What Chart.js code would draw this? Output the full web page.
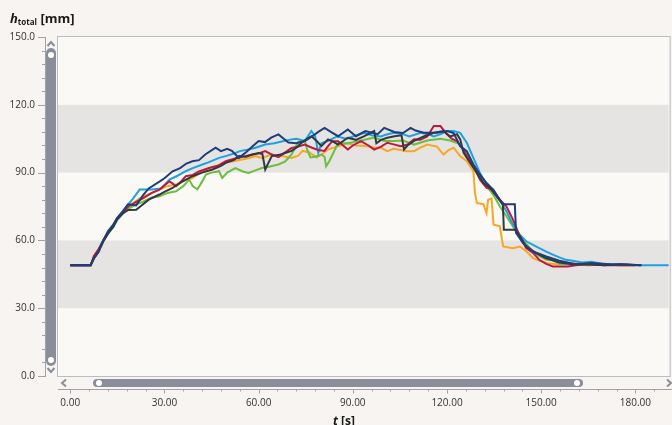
<!DOCTYPE html>
<html>
<head>
<meta charset="utf-8">
<script src="https://cdn.jsdelivr.net/npm/chart.js@4/dist/chart.umd.min.js"></script>
<style>
  html, body { margin: 0; padding: 0; background: #f7f4f1; overflow: hidden; }
  #wrap { width: 672px; height: 425px; position: relative; }
</style>
</head>
<body>
<div id="wrap"><canvas id="hChart" width="672" height="425"></canvas></div>
<script>
const navyT = [0,6.5,7.5,9,10.5,12,13.7,15,16.8,18.4,21,23.2,25,28.4,30,32.6,35,37,38.9,41,43,46.3,48,50,51.5,53.7,56,58,60,62,64,66.3,68,69.5,72,74.7,77,79,81,83,85.3,88.4,91,94,97.9,100,103.2,106,108.4,110,112.6,116.8,120,122.1,124.2,126.3,128.4,130.5,132.6,134.7,136.8,137.9,141.6,142,144.2,147.4,151.6,155.8,161,166,172,177,182];
const navyV = [49,49,52,55,60,64,67,70,73,76,75.5,80,83,86,87.5,90.6,92,94,95,95.5,98,101,99.5,100.5,99.6,96.5,99,101.5,104,103.5,105.5,106.9,105,103.3,103,104,106,108,109.8,108,106.1,109.1,106.1,108.4,107,109.8,108,107.5,109.8,108.6,107.6,107.6,108.4,107.5,101.7,99.5,93.6,89.1,85.4,82.5,78,76,76,63.3,58.8,55.1,52.9,51,49.5,50,49.5,49.3,49];

const blueT = [0,6.5,7.5,9,10.5,12,13.7,15,16.8,18.5,20,22.1,24,26,29,31.6,34,36.8,39,42.1,44,47.4,50,52.6,54,56.8,59,62.1,65,68,70.5,72,74.7,76.8,78,79,80,82,85,88,90,93.7,96,98.9,101,103.2,106,108,111.6,114,115.8,118,120,122.1,124.2,126.3,128.4,130.5,132.6,134.7,136.8,138.9,141,143.2,145.2,147.4,149.4,151.6,153.7,155.8,157.9,160,163,166,170,175,180,185,192];
const blueV = [49,49,52.5,56,60,63,66.5,70,73,76,78.5,82.5,82.5,82.5,83,86.9,88.5,90.6,92,93.6,94.5,96.5,97.5,98.7,99.5,100.2,101,102.4,103,104,104.7,105,104,108.4,106,98.7,103,104,106,105,106,107.6,106.5,106,107,107.6,107,106,107.6,107,106,107,108.4,108.4,107.6,103.2,96.5,89.8,84.7,81.7,78,72.9,67,62.5,59.6,58,56.6,55,53.7,52.5,51.4,51,50.2,50.5,49.5,49.5,49,49,49];

const orangeT = [0,6.5,7.5,9,10.5,12,13.7,15,16.8,18.5,20.5,22,25,28.4,31,33.7,36,38.9,41,44.2,47,49.5,52,54.7,57,59,61,64.2,67,70.5,72.6,74,76,78.5,80,82.1,85,88.4,91,94.7,97,98.9,101,103,105.3,107,109.5,111.5,113.7,116.8,118.9,120.5,122.1,124.2,126.3,128.4,128.9,129.5,131.6,132.6,133.1,134.2,134.8,136.8,137.9,141,143.2,145,147.4,149.5,151.6,155,160,165,170,175,180];
const orangeV = [49,49,52,55,59.5,63,66.5,70,72.5,75,77,78.5,80.5,82.5,84,84.7,86.5,87.6,89.5,92,93.2,94.3,95,95.8,96.5,97.3,96.5,98,97.5,96.5,97.5,99.6,99,96.7,98,100.2,101.5,103,102,101.7,101,101,99.5,100.5,100,99.5,99.5,101,102.4,101.5,98,100,101,97.3,95,90.6,81,76.6,76,72.1,78,78.5,67,66.2,57.3,56.5,57.3,55.5,52.1,51,50,49.5,50,49,49.5,49,49];

const greenT = [0,6.5,7.5,9,10.5,12,13.7,15,16.8,18.5,21,23,26,28.4,31,33.7,36,37.9,39,40.5,42,43.2,45,47.4,48.4,50,52.6,55,56.8,59,61,63,66.3,68.5,70.5,72.6,74.7,75.5,76.5,78,80,81,81.5,82.5,85.3,88.4,92,96.8,100,103.2,106,109.5,113.7,117.9,121,123.5,126.3,128.4,130.5,132.6,134.7,136.8,138.9,141,143.2,145.2,147.4,149.5,151.6,153.7,156,160,165,170,175,180];
const greenV = [49,49,52,55,59.5,63,66,69,72,74,76,77,79,79.5,81,81.7,84,86.9,84,82.6,86,89.1,90,90.6,87.6,90,92,90.5,89.8,91,92,92.5,93.6,95,98,103.5,104.2,100,96.7,97,98,97,92.8,95,103,103,104,105.5,104,104,104.2,102.4,104.2,105,104.2,103,98,93.6,88.4,84,80.3,75.1,70.7,66.2,61.8,58.5,55,53,51.4,51.4,49.6,49.5,49,49.5,49,49];

const redT = [0,6.5,7.5,9,10.5,12,13.7,15,16.8,18.5,21,23,26,28.4,31.6,33.7,35,36.8,39,41,44.2,47,49.5,52,55.8,58,60,62.1,64.2,66.3,68,70.5,72.6,74.7,77,79,81,82.1,83.5,85.3,88.4,90,92.6,95,96.8,99,101,103,105.3,107.5,109.5,111.5,113.7,115.8,117.9,120,121.5,123.2,124.8,126.3,128.4,130.5,132.6,134.7,136.8,138.9,141,143.2,145.2,147.4,149.4,151.6,153.7,156,158.5,161,165,170,175,180];
const redV = [49,49,53,56,60,63.5,66.5,70,72.5,75,77,78.5,81,82.5,86.2,84,85.5,88.4,89,90.5,92,93,95,96,97.3,98,98.5,99.5,98,96.8,98.5,100.9,101.5,102.4,101,100,99.6,101.7,103.9,103.9,100.2,102,103.9,102,100.2,101.5,103.2,102.5,101.7,102.5,104.7,104.5,106,110.6,110.6,106.9,105,103.9,101,97.3,93,86.9,83.2,82.5,78,75.1,69.2,61.8,56.6,54.5,51.4,49.6,48.5,48.4,48.5,49,49.5,49,49,49];

const greyT = [0,6.5,7.5,9,10.5,12,13.7,15,16.8,18.5,21,23.2,25,28.4,30,32.6,35,38.9,42,45.3,48,49.5,52,53.7,56,58,60,61.2,62.1,63,64.2,67,70.5,72,73.7,75,76.8,78.5,80,82.1,84,85.3,88.4,91,93.5,96.8,97.5,99,101,103.3,105.5,106.3,107.4,109.5,112.6,115.8,118.9,121,123.2,124.2,125.3,127.4,129.5,131.6,133.7,135.8,137.8,138.1,141.6,143.2,145.2,148.4,151.6,155.8,160,165,170,175,181.6];
const greyV = [49,49,52,55,59.5,63,66,69.5,72,73.5,73.6,76,78,80.3,81.5,83.2,85.5,88.4,90,91.4,93,94.3,95.5,97.3,97,98,98.7,98.2,91.4,94,97.3,98,99.6,101,103.2,104.5,106.1,104,101.7,104.7,103.5,102.4,105.4,104.5,106,108.4,103,104.5,105.4,106.1,106.5,100.2,102,104,106,107.6,108.4,106,107,104.7,98.7,94.3,89.8,85.4,83.2,79.5,75.8,64.7,64.7,61.8,57.3,54.4,52.1,50.2,49.5,49.5,49,49.5,49];

const bandRanges = [[30, 60], [90, 120]];
const yMajor = 30, yMinor = 6;
const xMajor = 30, xMinor = 6;

function pts(ts, vs) { return ts.map((t, i) => ({ x: t, y: vs[i] })); }

const FONT = '"Open Sans", "Noto Sans", sans-serif';

// bands, frame, axis ticks, scrollbars and titles (WPF-style chart look)
const decor = {
  id: 'decor',
  beforeDraw(chart) {
    const { ctx, chartArea: a, scales: { x, y } } = chart;
    ctx.save();
    ctx.fillStyle = '#f7f4f1';
    ctx.fillRect(0, 0, chart.width, chart.height);
    ctx.fillStyle = '#fbf9f6';
    ctx.fillRect(a.left, a.top, a.right - a.left, a.bottom - a.top);
    ctx.fillStyle = '#e6e3e3';
    bandRanges.forEach(([lo, hi]) => {
      const y1 = y.getPixelForValue(hi), y2 = y.getPixelForValue(lo);
      ctx.fillRect(a.left, y1, a.right - a.left, y2 - y1);
    });
    ctx.restore();
  },
  afterDraw(chart) {
    const { ctx, chartArea: a, scales: { x, y } } = chart;
    ctx.save();
    // plot frame
    ctx.strokeStyle = '#b9bcc3';
    ctx.lineWidth = 1;
    ctx.strokeRect(a.left - 0.5, a.top - 0.5, a.right - a.left + 2, a.bottom - a.top + 1);

    // y axis line + ticks
    ctx.strokeStyle = '#9ea2ab';
    ctx.beginPath();
    ctx.moveTo(45.5, a.top);
    ctx.lineTo(45.5, a.bottom + 1);
    for (let v = y.min; v <= y.max; v += yMinor) {
      const py = Math.round(y.getPixelForValue(v)) + 0.5;
      ctx.moveTo(v % yMajor === 0 ? 38 : 42, py);
      ctx.lineTo(45.5, py);
    }
    // x axis line + ticks
    const ay = 389.5;
    ctx.moveTo(a.left, ay);
    ctx.lineTo(chart.width, ay);
    for (let t = 0; t <= x.max; t += xMinor) {
      const px = Math.round(x.getPixelForValue(t)) + 0.5;
      ctx.moveTo(px, ay);
      ctx.lineTo(px, ay + (t % xMajor === 0 ? 4 : 2));
    }
    ctx.stroke();

    // scrollbars
    const barCol = '#8a8e9a';
    ctx.fillStyle = barCol;
    const rr = (x0, y0, w, h, r) => {
      ctx.beginPath();
      ctx.roundRect(x0, y0, w, h, r);
      ctx.fill();
    };
    rr(46, 48, 10, 318, 5);
    rr(93, 379, 490, 8, 4);
    ctx.fillStyle = '#ffffff';
    [[51, 55], [51, 360]].forEach(([cx, cy]) => { ctx.beginPath(); ctx.arc(cx, cy, 3, 0, Math.PI * 2); ctx.fill(); });
    [[99, 383], [577, 383]].forEach(([cx, cy]) => { ctx.beginPath(); ctx.arc(cx, cy, 3, 0, Math.PI * 2); ctx.fill(); });
    // arrows
    ctx.strokeStyle = barCol;
    ctx.lineWidth = 2;
    ctx.beginPath();
    ctx.moveTo(47.5, 46); ctx.lineTo(51, 42); ctx.lineTo(54.5, 46);
    ctx.moveTo(47.5, 368); ctx.lineTo(51, 372); ctx.lineTo(54.5, 368);
    ctx.moveTo(66, 379.5); ctx.lineTo(62, 383); ctx.lineTo(66, 386.5);
    ctx.moveTo(667, 379.5); ctx.lineTo(671, 383); ctx.lineTo(667, 386.5);
    ctx.stroke();

    // titles
    ctx.fillStyle = '#1a1a1a';
    ctx.textBaseline = 'alphabetic';
    ctx.textAlign = 'left';
    let tx = 10;
    ctx.font = 'italic bold 13px ' + FONT;
    ctx.fillText('h', tx, 23);
    tx += ctx.measureText('h').width;
    ctx.font = 'bold 8px ' + FONT;
    ctx.fillText('total', tx, 25);
    tx += ctx.measureText('total').width;
    ctx.font = 'bold 13px ' + FONT;
    ctx.fillText(' [mm]', tx, 23);

    let sx = 333;
    ctx.font = 'italic bold 12px ' + FONT;
    ctx.fillText('t', sx, 425);
    sx += ctx.measureText('t').width;
    ctx.font = 'bold 12px ' + FONT;
    ctx.fillText(' [s]', sx, 425);
    ctx.restore();
  }
};

const ctx = document.getElementById('hChart').getContext('2d');
const hChart = new Chart(ctx, {
  type: 'line',
  data: {
    datasets: [
      { label: 'run 1', data: pts(navyT, navyV), borderColor: '#1f3d78' },
      { label: 'run 2', data: pts(greyT, greyV), borderColor: '#33383f' },
      { label: 'run 3', data: pts(redT, redV), borderColor: '#c0183f' },
      { label: 'run 4', data: pts(blueT, blueV), borderColor: '#1ba2df' },
      { label: 'run 5', data: pts(greenT, greenV), borderColor: '#6cbf3e' },
      { label: 'run 6', data: pts(orangeT, orangeV), borderColor: '#f6a724' }
    ]
  },
  options: {
    responsive: false,
    animation: false,
    events: [],
    layout: { padding: { top: 37, left: 0, right: 0, bottom: 0 } },
    elements: {
      line: { borderWidth: 2, tension: 0, fill: false },
      point: { radius: 0 }
    },
    plugins: {
      legend: { display: false },
      tooltip: { enabled: false }
    },
    scales: {
      x: {
        type: 'linear',
        min: -3.9,
        max: 190.6,
        grid: { display: false, drawTicks: false },
        border: { display: false },
        ticks: {
          stepSize: 30,
          includeBounds: false,
          padding: 21,
          maxRotation: 0,
          color: '#333',
          font: { family: FONT, size: 10 },
          callback: v => v.toFixed(2)
        },
        afterFit: s => { s.height = 49; }
      },
      y: {
        min: 0,
        max: 150,
        grid: { display: false, drawTicks: false },
        border: { display: false },
        ticks: {
          stepSize: 30,
          padding: 23,
          color: '#333',
          font: { family: FONT, size: 10 },
          callback: v => v.toFixed(1)
        },
        afterFit: s => { s.width = 58; }
      }
    }
  },
  plugins: [decor]
});
</script>
</body>
</html>
